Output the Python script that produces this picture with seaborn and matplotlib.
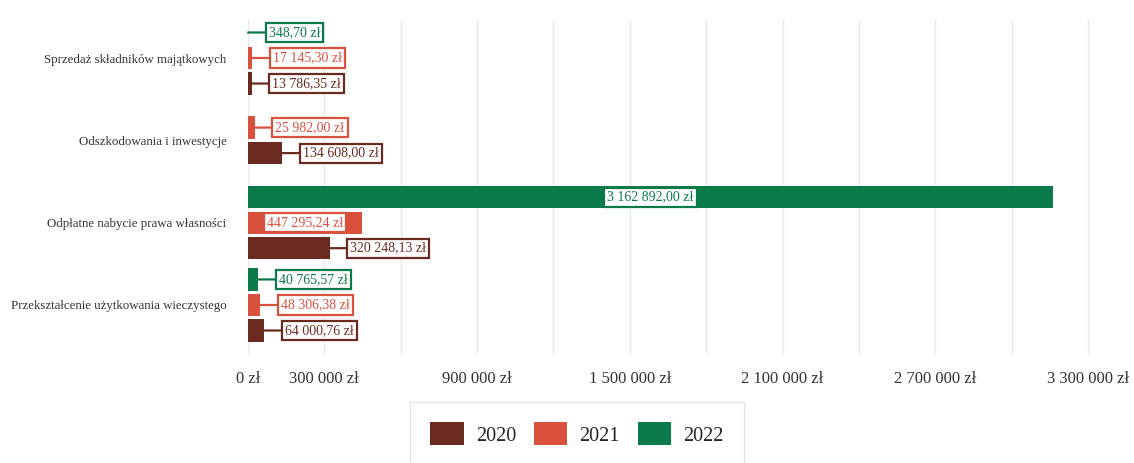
import numpy as np
import pandas as pd
import matplotlib
matplotlib.use("Agg")
import matplotlib.pyplot as plt
import seaborn as sns
from matplotlib.patches import Patch

# ---------------- data ----------------
categories = [
    "Sprzedaż składników majątkowych",
    "Odszkodowania i inwestycje",
    "Odpłatne nabycie prawa własności",
    "Przekształcenie użytkowania wieczystego",
]
years = ["2020", "2021", "2022"]
values_2020 = [13786.35, 134608.00, 320248.13, 64000.76]
values_2021 = [17145.30, 25982.00, 447295.24, 48306.38]
values_2022 = [348.70, None, 3162892.00, 40765.57]
x_tick_values = [0, 300000, 600000, 900000, 1200000, 1500000, 1800000,
                 2100000, 2400000, 2700000, 3000000, 3300000]
x_tick_labels = ["0 zł", "300 000 zł", "", "900 000 zł", "", "1 500 000 zł", "",
                 "2 100 000 zł", "", "2 700 000 zł", "", "3 300 000 zł"]
colors = {"2020": "#6B2A1F", "2021": "#D9503D", "2022": "#0A7A4A"}

series = {"2020": values_2020, "2021": values_2021, "2022": values_2022}

# ---------------- layout ----------------
W, H, DPI = 1134, 463, 100
fig = plt.figure(figsize=(W / DPI, H / DPI), dpi=DPI)
sns.set_style("white")
plt.rcParams["font.family"] = ["Liberation Serif", "DejaVu Serif"]

left_px, right_px, top_px, bottom_px = 248, 1125, 20, 354
ax = fig.add_axes([left_px / W, 1 - bottom_px / H,
                   (right_px - left_px) / W, (bottom_px - top_px) / H])

step = 0.31
bar_h = 0.27
order_in_group = ["2022", "2021", "2020"]  # top to bottom

rows = []
for ci, cat in enumerate(categories):
    present = [y for y in order_in_group if series[y][ci] is not None]
    k = len(present)
    for j, y in enumerate(present):
        pos = ci + (j - (k - 1) / 2) * step
        rows.append({"category": cat, "year": y, "value": series[y][ci],
                     "pos": round(pos, 6)})
df = pd.DataFrame(rows)

pos_sorted = np.unique(df["pos"].values)
min_diff = np.nanmin(np.diff(pos_sorted))

sns.barplot(data=df, x="value", y="pos", hue="year", orient="h",
            native_scale=True, dodge=False, width=bar_h / min_diff,
            palette=colors, hue_order=years, saturation=1, errorbar=None,
            legend=False, ax=ax, linewidth=0)

ax.set_xlim(0, 3445000)
ax.set_ylim(3 + (bottom_px - 305) / 82.3, -(58 - top_px) / 82.3)
ax.set_yticks(range(len(categories)))
ax.set_yticklabels(categories, fontsize=9.3, color="#333333")
ax.set_xticks(x_tick_values)
ax.set_xticklabels(x_tick_labels, fontsize=12, color="#333333")
ax.tick_params(axis="both", length=0)
ax.tick_params(axis="y", pad=15.5)
ax.tick_params(axis="x", pad=12)
ax.set_xlabel("")
ax.set_ylabel("")
for s in ax.spines.values():
    s.set_visible(False)
ax.xaxis.grid(True, color="#e8e8e8", linewidth=1)
ax.yaxis.grid(False)
ax.set_axisbelow(True)


def fmt(v):
    return f"{v:,.2f}".replace(",", " ").replace(".", ",") + " zł"


fig.canvas.draw()
renderer = fig.canvas.get_renderer()
x_px_per_unit = (ax.transData.transform((1e6, 0))[0] - ax.transData.transform((0, 0))[0]) / 1e6

for _, r in df.iterrows():
    c = colors[r["year"]]
    txt = fmt(r["value"])
    bbox = dict(boxstyle="square,pad=0.22", facecolor="white", edgecolor=c, linewidth=1.6)
    probe = ax.text(0, r["pos"], txt, fontsize=10, bbox=bbox)
    fig.canvas.draw()
    tw = probe.get_bbox_patch().get_window_extent(renderer).width
    probe.remove()
    bar_px = r["value"] * x_px_per_unit
    if bar_px > tw + 8:
        ax.text(r["value"] / 2, r["pos"], txt, fontsize=10, color=c,
                ha="center", va="center", bbox=bbox, zorder=5)
    else:
        ax.annotate(txt, xy=(r["value"], r["pos"]), xytext=(15, 0),
                    textcoords="offset points", ha="left", va="center",
                    fontsize=10, color=c, bbox=bbox, zorder=5,
                    arrowprops=dict(arrowstyle="-", color=c, lw=1.6,
                                    shrinkA=0, shrinkB=0))

handles = [Patch(facecolor=colors[y], edgecolor="none", label=y) for y in years]
leg = fig.legend(handles=handles, loc="upper center", bbox_to_anchor=(577 / W, 1 - 392 / H),
                 ncol=3, frameon=True, fontsize=14.5, handlelength=1.65, handleheight=1.4,
                 columnspacing=0.9, handletextpad=0.6, borderpad=1.0, fancybox=False)
leg.get_frame().set_edgecolor("#dddddd")
leg.get_frame().set_linewidth(1)

fig.savefig("out.png", dpi=DPI)
